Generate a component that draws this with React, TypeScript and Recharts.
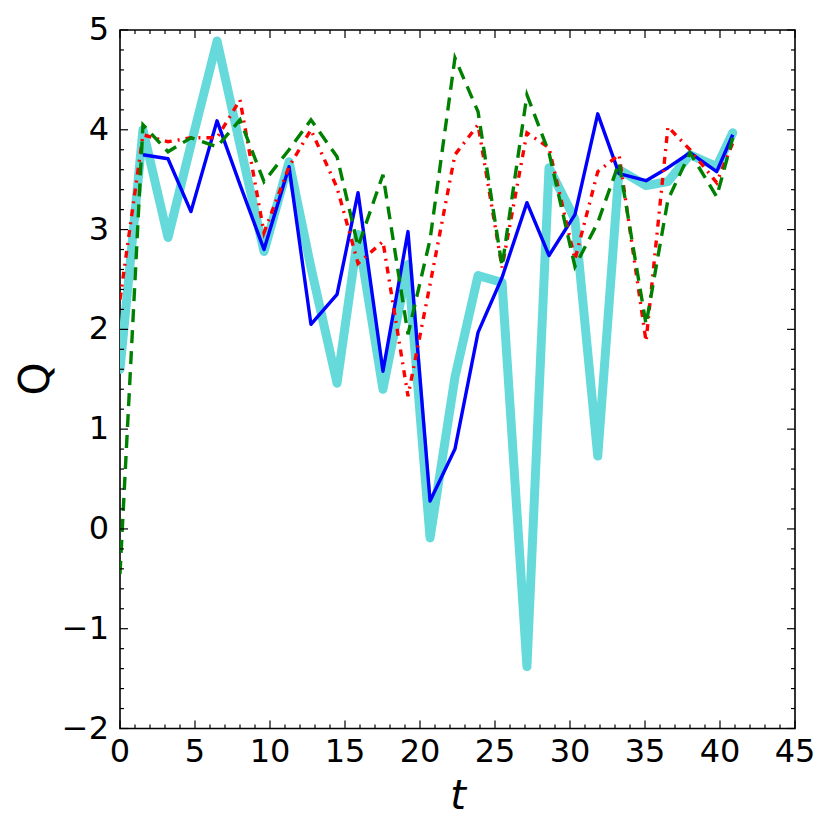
import React from 'react';
import { LineChart, Line, XAxis, YAxis, ReferenceArea, Label } from 'recharts';

const times = [0, 1.53, 3.2, 4.73, 6.47, 8.0, 9.6, 11.27, 12.73, 14.47, 15.87, 17.53, 19.2, 20.67, 22.33, 23.87, 25.47, 27.13, 28.6, 30.33, 31.85, 33.27, 35.07, 36.53, 38.0, 39.78, 40.85];
const cyanSeries = [1.6, 4.0, 2.92, 3.85, 4.89, 3.85, 2.78, 3.68, 2.62, 1.46, 2.95, 1.4, 2.65, -0.09, 1.52, 2.54, 2.47, -1.38, 3.62, 3.1, 0.73, 3.6, 3.44, 3.48, 3.75, 3.63, 3.97];
const blueSeries = [null, 3.75, 3.71, 3.18, 4.09, 3.45, 2.8, 3.63, 2.05, 2.35, 3.37, 1.58, 2.98, 0.28, 0.8, 1.97, 2.52, 3.27, 2.74, 3.15, 4.16, 3.56, 3.49, 3.62, 3.77, 3.58, 3.95];
const greenSeries = [-0.45, 4.05, 3.78, 3.92, 3.83, 4.1, 3.48, 3.8, 4.1, 3.73, 2.83, 3.55, 1.95, 2.9, 4.72, 4.18, 2.63, 4.35, 3.77, 2.63, 3.07, 3.67, 2.05, 3.3, 3.77, 3.33, 3.92];
const redSeries = [2.3, 3.95, 3.88, 3.92, 3.92, 4.3, 2.97, 3.63, 4.0, 3.42, 2.66, 2.88, 1.33, 2.45, 3.75, 4.05, 2.62, 3.97, 3.82, 2.7, 3.58, 3.75, 1.88, 4.03, 3.8, 3.47, 3.87];

const xTicks = Array.from({ length: 46 }, (_, i) => i);
const yTicks = Array.from({ length: 36 }, (_, i) => (i - 10) / 5);

const data = times.map((t, i) => ({
  t,
  cyan: cyanSeries[i],
  blue: blueSeries[i],
  green: greenSeries[i],
  red: redSeries[i],
}));

const W = 815;
const H = 810;
const M_TOP = 22;
const Y_AXIS_W = 112;
const M_RIGHT = 28;
const X_AXIS_H = 89.5;
const PLOT_W = W - Y_AXIS_W - M_RIGHT;
const PLOT_H = H - M_TOP - X_AXIS_H;
const FONT = 'DejaVu Sans';

const fmt = (v: number) => (v < 0 ? '\u2212' + Math.abs(v) : String(v));

const XTick = (props: any) => {
  const { x, y, payload } = props;
  const v = payload.value;
  const major = Math.abs(v % 5) < 1e-6;
  const len = major ? 8 : 4;
  return (
    <g>
      <line x1={x} y1={y} x2={x} y2={y - len} stroke="#000" strokeWidth={1.2} />
      <line x1={x} y1={y - PLOT_H} x2={x} y2={y - PLOT_H + len} stroke="#000" strokeWidth={1.2} />
      {major && (
        <text x={x} y={y + 33} textAnchor="middle" fontSize={32} fontFamily={FONT} fill="#000">
          {fmt(v)}
        </text>
      )}
    </g>
  );
};

const YTick = (props: any) => {
  const { x, y, payload } = props;
  const v = payload.value;
  const major = Math.abs(v - Math.round(v)) < 1e-6;
  const len = major ? 8 : 4;
  return (
    <g>
      <line x1={x} y1={y} x2={x + len} y2={y} stroke="#000" strokeWidth={1.2} />
      <line x1={x + PLOT_W} y1={y} x2={x + PLOT_W - len} y2={y} stroke="#000" strokeWidth={1.2} />
      {major && (
        <text x={x - 11} y={y + 10} textAnchor="end" fontSize={32} fontFamily={FONT} fill="#000">
          {fmt(Math.round(v))}
        </text>
      )}
    </g>
  );
};

const renderQ = () => (
  <text x={26} y={371} transform="rotate(-90, 26, 371)" textAnchor="middle" dominantBaseline="central" fontSize={42} fontFamily={FONT} fill="#000">
    Q
  </text>
);

const renderT = () => (
  <text x={450} y={801} textAnchor="middle" fontSize={40} fontFamily={FONT} fontStyle="italic" fill="#000">
    t
  </text>
);

export default function App() {
  return (
    <LineChart width={W} height={H} data={data} margin={{ top: M_TOP, right: M_RIGHT, bottom: 0, left: 0 }}>
      <XAxis
        dataKey="t"
        type="number"
        domain={[0, 45]}
        ticks={xTicks}
        interval={0}
        tickSize={0}
        tickMargin={0}
        tickLine={false}
        axisLine={false}
        height={X_AXIS_H}
        tick={<XTick />}
        allowDataOverflow
      >
        <Label content={renderT} />
      </XAxis>
      <YAxis
        type="number"
        domain={[-2, 5]}
        ticks={yTicks}
        interval={0}
        tickSize={0}
        tickMargin={0}
        tickLine={false}
        axisLine={false}
        width={Y_AXIS_W}
        tick={<YTick />}
        allowDataOverflow
      >
        <Label content={renderQ} />
      </YAxis>
      <Line dataKey="cyan" stroke="#66dada" strokeWidth={9} dot={false} isAnimationActive={false} strokeLinejoin="round" strokeLinecap="round" />
      <Line dataKey="blue" stroke="#0000ff" strokeWidth={3.4} dot={false} isAnimationActive={false} strokeLinejoin="round" />
      <Line dataKey="red" stroke="#ff0000" strokeWidth={3.4} strokeDasharray="7 6 2 6" dot={false} isAnimationActive={false} />
      <Line dataKey="green" stroke="#008000" strokeWidth={3.4} strokeDasharray="13 8" dot={false} isAnimationActive={false} />
      <ReferenceArea x1={0} x2={45} y1={-2} y2={5} fill="none" fillOpacity={0} stroke="#000" strokeWidth={1.6} strokeOpacity={1} />
    </LineChart>
  );
}
